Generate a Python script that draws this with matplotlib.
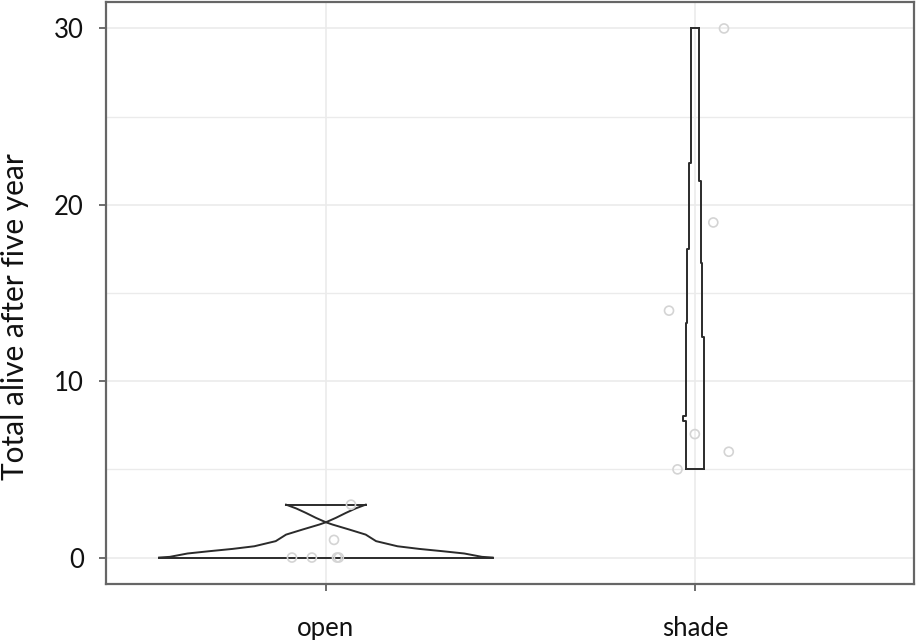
import numpy as np
import matplotlib.pyplot as plt

plt.rcParams['font.family'] = ['Lato', 'DejaVu Sans']

groups = ['open', 'shade']

# jittered observations (x offset from group centre, value)
open_y = [0, 0, 0, 0, 1, 3]
open_dx = [-0.092, -0.038, 0.030, 0.035, 0.022, 0.068]
shade_y = [30, 19, 14, 7, 6, 5]
shade_dx = [0.079, 0.050, -0.070, 0.000, 0.092, -0.047]

# violin outline for "open": value levels and half widths
open_lv = [0.0, 0.04, 0.23, 0.36, 0.49, 0.64, 0.93, 1.30, 1.59, 1.87, 2.0,
           2.25, 2.53, 2.78, 3.0]
open_hw = [0.452, 0.423, 0.375, 0.316, 0.253, 0.194, 0.136, 0.108, 0.063,
           0.018, 0.0, 0.027, 0.054, 0.080, 0.108]

# violin outline for "shade": steps on each side
shade_left_lv = [5.0, 7.73, 8.02, 13.31, 17.47, 22.39, 30.0]
shade_left_hw = [0.025, 0.031, 0.025, 0.021, 0.0155, 0.011, 0.011]
shade_right_lv = [5.0, 12.52, 16.72, 21.35, 30.0]
shade_right_hw = [0.0235, 0.019, 0.0155, 0.011, 0.011]

fig = plt.figure(figsize=(9.16, 6.4), dpi=100)
ax = fig.add_axes([106 / 916, 56 / 640, 808 / 916, 582 / 640])

line_col = '#2b2b2b'
lw = 1.4

# open violin (symmetric)
lv = np.array(open_lv)
hw = np.array(open_hw)
ax.plot(1 - hw, lv, color=line_col, lw=lw)
ax.plot(1 + hw, lv, color=line_col, lw=lw)
ax.plot([1 - hw[0], 1 + hw[0]], [lv[0], lv[0]], color=line_col, lw=lw)
ax.plot([1 - hw[-1], 1 + hw[-1]], [lv[-1], lv[-1]], color=line_col, lw=lw)

# shade violin
ll = np.array(shade_left_lv)
lh = np.array(shade_left_hw)
rl = np.array(shade_right_lv)
rh = np.array(shade_right_hw)
ax.plot(2 - lh, ll, color=line_col, lw=lw, drawstyle='steps-pre')
ax.plot(2 + rh, rl, color=line_col, lw=lw, drawstyle='steps-pre')
ax.plot([2 - lh[0], 2 + rh[0]], [5, 5], color=line_col, lw=lw)
ax.plot([2 - lh[-1], 2 + rh[-1]], [30, 30], color=line_col, lw=lw)

# points
ax.scatter(1 + np.array(open_dx), open_y, s=42, facecolors='none',
           edgecolors='#d4d4d4', linewidths=1.2, zorder=3)
ax.scatter(2 + np.array(shade_dx), shade_y, s=42, facecolors='none',
           edgecolors='#d4d4d4', linewidths=1.2, zorder=3)

ax.set_xlim(0.404, 2.594)
ax.set_ylim(-1.5, 31.5)
ax.set_xticks([1, 2])
ax.set_xticklabels(groups)
ax.set_yticks([0, 10, 20, 30])
ax.set_yticks([5, 15, 25], minor=True)
ax.grid(True, which='major', color='#ebebeb', lw=1.2)
ax.grid(True, which='minor', axis='y', color='#ebebeb', lw=1.0)
ax.set_axisbelow(True)
ax.tick_params(which='minor', length=0)
ax.tick_params(which='major', length=5, width=1.2, color='#555555',
               labelsize=18.5, labelcolor='#111111')
ax.tick_params(axis='y', pad=11)
ax.tick_params(axis='x', pad=18)
for s in ax.spines.values():
    s.set_color('#666666')
    s.set_linewidth(1.6)
ax.set_ylabel('Total alive after five year', fontsize=21.5, color='#111111')
ax.yaxis.set_label_coords(-0.0955, 0.459)

fig.savefig('out.png', dpi=100)
